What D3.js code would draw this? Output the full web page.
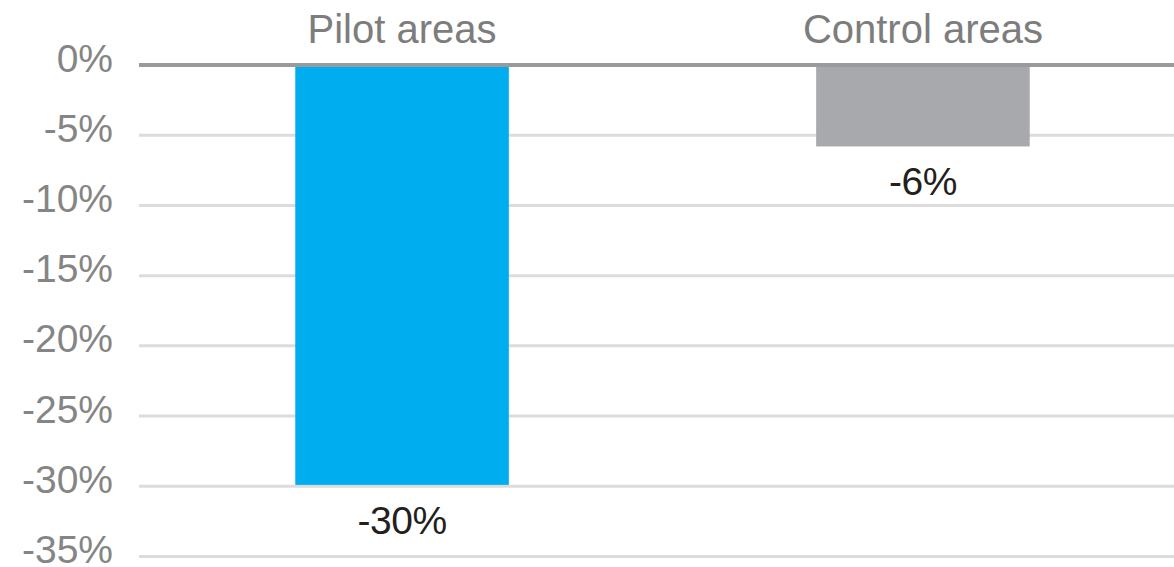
<!DOCTYPE html>
<html>
<head>
<meta charset="utf-8">
<script src="https://cdn.jsdelivr.net/npm/d3@7"></script>
<style>
  body { margin: 0; background: #fff; }
  text { font-family: "Liberation Sans", Arial, sans-serif; }
</style>
</head>
<body>
<div id="chart"></div>
<script>
// Data.
var categories = ["Pilot areas", "Control areas"];
var values = [-29.9, -5.8];
var valueLabels = ["-30%", "-6%"];
var tickValues = [0, -5, -10, -15, -20, -25, -30, -35];
var barColors = ["#00aeef", "#a7a9ac"];

var width = 1174,
    height = 567;

var svg = d3.select("#chart").append("svg")
    .attr("width", width)
    .attr("height", height);

// Scales.
var xScale = d3.scaleBand()
    .domain(categories)
    .range([139, 1186])
    .paddingInner(0.59)
    .paddingOuter(0.3);

var yScale = d3.scaleLinear()
    .domain([-35, 0])
    .range([556.5, 65]);

// Gridlines (the zero line is drawn later, on top of the bars).
svg.append("g")
    .attr("class", "grid")
    .selectAll("line")
    .data(tickValues.filter(function(d) { return d !== 0; }))
    .enter().append("line")
    .attr("x1", 139)
    .attr("x2", width)
    .attr("y1", function(d) { return yScale(d); })
    .attr("y2", function(d) { return yScale(d); })
    .attr("stroke", "#dcdcdc")
    .attr("stroke-width", 3);

// Y axis tick labels.
var yAxis = d3.axisLeft(yScale)
    .tickValues(tickValues)
    .tickSize(0)
    .tickPadding(0)
    .tickFormat(function(d) { return d + "%"; });

var yAxisG = svg.append("g")
    .attr("class", "y axis")
    .attr("transform", "translate(113,0)")
    .call(yAxis);
yAxisG.select(".domain").remove();
yAxisG.selectAll("text")
    .attr("dy", "6")
    .attr("fill", "#858585")
    .style("font-size", "39px");

// Bars.
svg.append("g")
    .attr("class", "bars")
    .selectAll("rect")
    .data(values)
    .enter().append("rect")
    .attr("x", function(d, i) { return xScale(categories[i]); })
    .attr("width", xScale.bandwidth())
    .attr("y", yScale(0))
    .attr("height", function(d) { return yScale(d) - yScale(0); })
    .attr("fill", function(d, i) { return barColors[i]; });

// Zero line.
svg.append("line")
    .attr("x1", 139)
    .attr("x2", width)
    .attr("y1", yScale(0))
    .attr("y2", yScale(0))
    .attr("stroke", "#999a9c")
    .attr("stroke-width", 4);

// Category labels along the top.
svg.append("g")
    .selectAll("text")
    .data(categories)
    .enter().append("text")
    .attr("x", function(d) { return xScale(d) + xScale.bandwidth() / 2; })
    .attr("y", 43)
    .attr("text-anchor", "middle")
    .attr("fill", "#7d7d7d")
    .style("font-size", "40px")
    .text(function(d) { return d; });

// Value labels under the bars.
svg.append("g")
    .selectAll("text")
    .data(values)
    .enter().append("text")
    .attr("x", function(d, i) { return xScale(categories[i]) + xScale.bandwidth() / 2; })
    .attr("y", function(d) { return yScale(d) + 49; })
    .attr("text-anchor", "middle")
    .attr("fill", "#231f20")
    .style("font-size", "39px")
    .style("letter-spacing", "-0.5px")
    .text(function(d, i) { return valueLabels[i]; });
</script>
</body>
</html>
